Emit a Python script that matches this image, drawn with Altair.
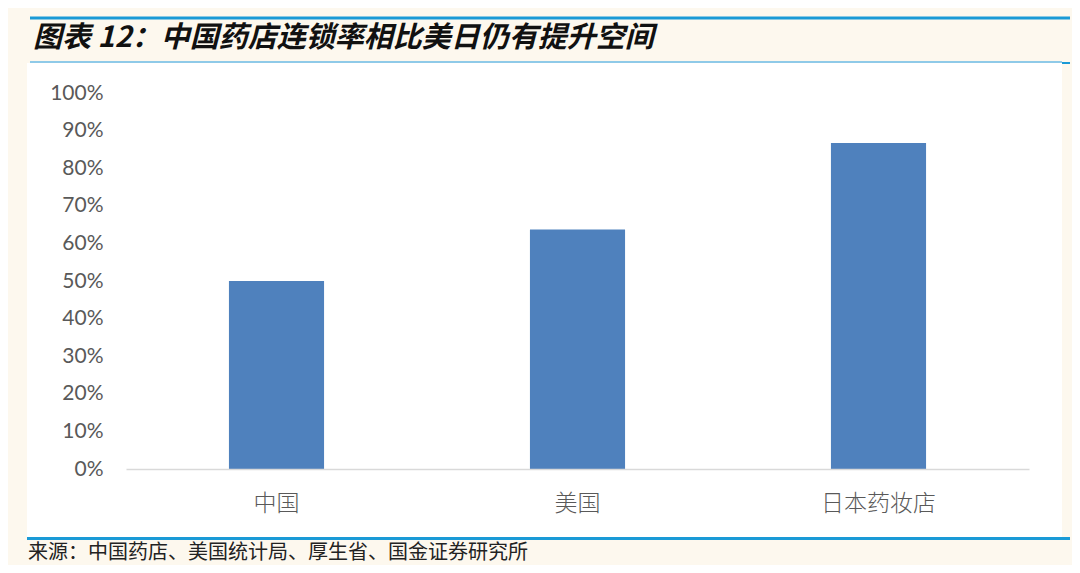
import altair as alt
import pandas as pd

categories = ["中国", "美国", "日本药妆店"]
rates = [0.50, 0.637, 0.867]

title_text = "图表 12：中国药店连锁率相比美日仍有提升空间"
source_text = "来源：中国药店、美国统计局、厚生省、国金证券研究所"

df = pd.DataFrame({"region": categories, "rate": rates})
one = alt.Data(values=[{}])

CJK = "Noto Sans CJK SC"
BLUE = "#1A9AD6"

panel = alt.Chart(one).mark_rect(color="white").encode(
    x=alt.value(-99), x2=alt.value(936), y=alt.value(-30), y2=alt.value(444)
)
top_line = alt.Chart(one).mark_rule(color=BLUE, strokeWidth=3).encode(
    x=alt.value(-96), x2=alt.value(944), y=alt.value(-75)
)
sub_line = alt.Chart(one).mark_rule(color="#8FCAE8", strokeWidth=2).encode(
    x=alt.value(-96), x2=alt.value(936), y=alt.value(-31)
)
sub_tick = alt.Chart(one).mark_rule(color=BLUE, strokeWidth=2).encode(
    x=alt.value(936), x2=alt.value(944), y=alt.value(-30)
)
foot_line = alt.Chart(one).mark_rule(color=BLUE, strokeWidth=3).encode(
    x=alt.value(-99), x2=alt.value(944), y=alt.value(445.5)
)
title = alt.Chart(one).mark_text(
    text=title_text, font=CJK, fontSize=29, fontWeight="bold", fontStyle="italic",
    align="left", baseline="middle", color="#111111"
).encode(x=alt.value(-93), y=alt.value(-55))
source = alt.Chart(one).mark_text(
    text=source_text, font=CJK, fontSize=20, align="left", baseline="middle",
    color="#222222"
).encode(x=alt.value(-98), y=alt.value(460))

bars = alt.Chart(df).mark_bar(color="#4F81BD").encode(
    x=alt.X(
        "region:N", sort=categories, title=None,
        scale=alt.Scale(paddingInner=0.684, paddingOuter=0.342),
        axis=alt.Axis(
            labelAngle=0, labelFont=CJK, labelFontSize=23, labelFontWeight=300,
            labelColor="#595959", labelPadding=23, ticks=False,
            domainColor="#D9D9D9", domainWidth=1.5, zindex=1,
        ),
    ),
    y=alt.Y(
        "rate:Q", title=None,
        scale=alt.Scale(domain=[0, 1], nice=False),
        axis=alt.Axis(
            format=".0%", tickCount=10, grid=False, domain=False, ticks=False,
            labelFont="Lato", labelFontSize=21, labelColor="#595959",
            labelPadding=23, zindex=1,
        ),
    ),
)

chart = alt.layer(
    panel, top_line, sub_line, sub_tick, foot_line, title, source, bars
).properties(
    width=903, height=376,
    autosize=alt.AutoSizeParams(type="none"),
    padding={"left": 118, "top": 85, "right": 43, "bottom": 96},
    background="#FDF8EE",
).configure_view(stroke=None)

chart.save("out.html", embed_options={"renderer": "svg", "actions": False})
